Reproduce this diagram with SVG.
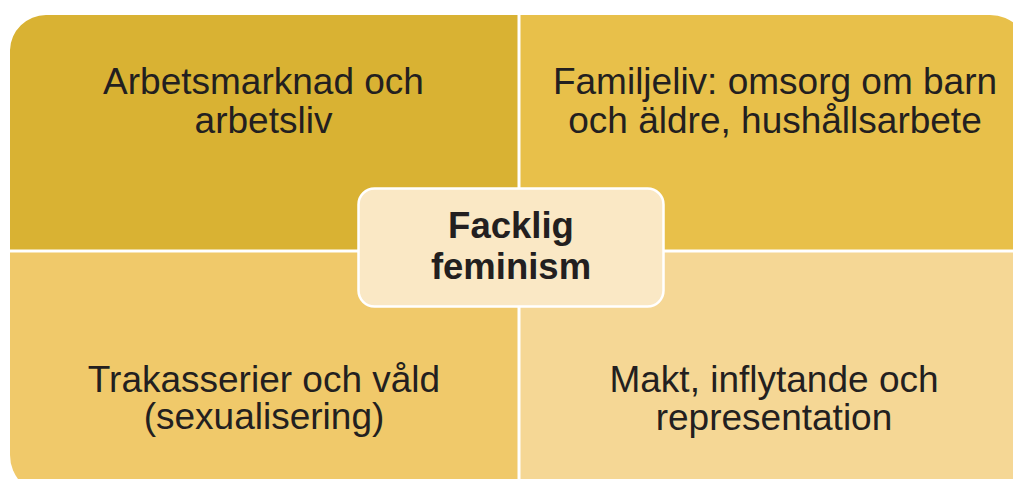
<svg xmlns="http://www.w3.org/2000/svg" width="1013" height="479" viewBox="0 0 1013 479">
<style>
.q{font-family:"Liberation Sans",Arial,sans-serif;font-size:37px;fill:#231f20;text-anchor:middle}
.c{font-family:"Liberation Sans",Arial,sans-serif;font-size:36.5px;font-weight:bold;fill:#231f20;text-anchor:middle}
</style>
<rect width="1013" height="479" fill="#ffffff"/>
<g id="q1">
<path d="M10,249.5 V50 A36,36 0 0 1 46,15 H517.5 V249.5 Z" fill="#d9b233"/>
<text class="q" x="263.5" y="94">Arbetsmarknad och</text>
<text class="q" x="263.5" y="133">arbetsliv</text>
</g>
<g id="q2">
<path d="M520.5,249.5 V15 H990 A40,40 0 0 1 1030,55 V249.5 Z" fill="#e8c04a"/>
<text class="q" x="775" y="94">Familjeliv: omsorg om barn</text>
<text class="q" x="775" y="133">och äldre, hushållsarbete</text>
</g>
<g id="q3">
<path d="M10,252.5 H517.5 V495 H50 A40,40 0 0 1 10,455 Z" fill="#f0c96a"/>
<text class="q" x="264" y="392">Trakasserier och våld</text>
<text class="q" x="264" y="429">(sexualisering)</text>
</g>
<g id="q4">
<path d="M520.5,252.5 H1030 V495 H520.5 Z" fill="#f5d795"/>
<text class="q" x="774" y="392">Makt, inflytande och</text>
<text class="q" x="774" y="430">representation</text>
</g>
<g id="connectors"></g>
<g id="center">
<rect x="358.5" y="188.5" width="305" height="118" rx="16" fill="#fae8c5" stroke="#ffffff" stroke-width="2.5"/>
<text class="c" x="511" y="238">Facklig</text>
<text class="c" x="511" y="279">feminism</text>
</g>
</svg>
